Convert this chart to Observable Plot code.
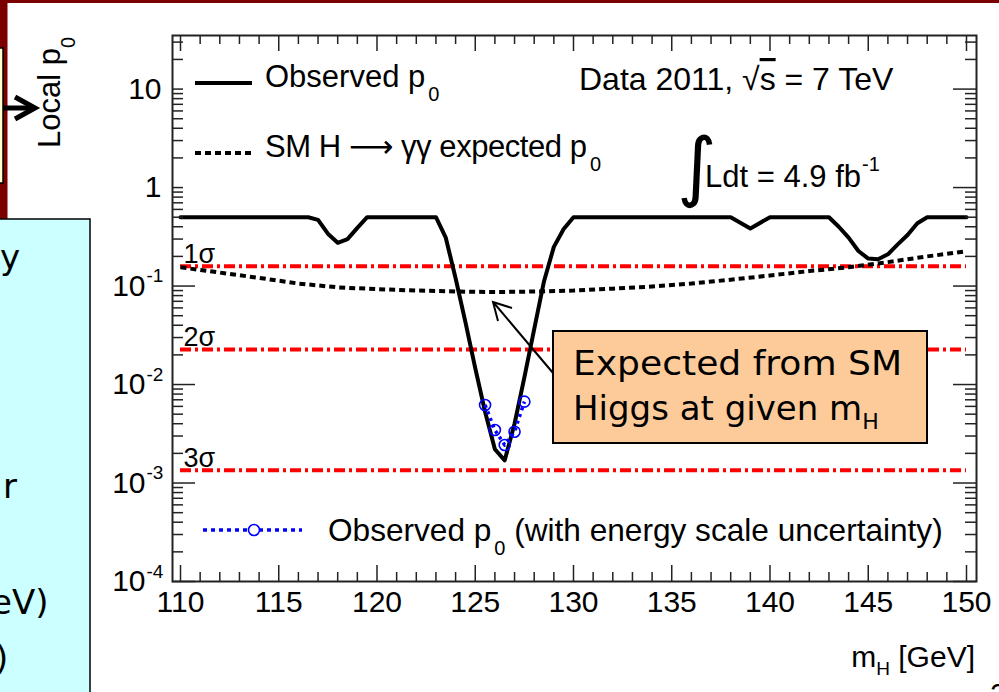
<!DOCTYPE html>
<html><head><meta charset="utf-8">
<script src="https://cdn.jsdelivr.net/npm/d3@7"></script>
<script src="https://cdn.jsdelivr.net/npm/@observablehq/plot@0.6"></script>
<style>
html,body{margin:0;padding:0;background:#fff;overflow:hidden;}
#wrap{position:relative;width:999px;height:692px;}
#wrap svg{position:absolute;left:0;top:0;}
</style></head><body><div id="wrap"></div>
<script>
// ---- data ----
const obsMass = [110,116.5,117,117.5,118,118.5,119,119.5,123,123.5,124,124.5,125,125.5,126,126.5,127,127.5,128,128.5,129,129.5,130,138,139,140,143,143.5,144,144.5,145,145.5,146,146.5,147,147.5,148,150];
const obsP0   = [0.5,0.5,0.47,0.34,0.275,0.30,0.39,0.5,0.5,0.31,0.12,0.043,0.0147,0.0053,0.0022,0.0017,0.0040,0.0118,0.0366,0.112,0.25,0.38,0.5,0.5,0.385,0.5,0.5,0.40,0.31,0.227,0.19,0.187,0.21,0.265,0.33,0.435,0.5,0.5];
const expMass = [110,112,114,116,118,120,122,124,126,128,130,132,134,136,138,140,142,144,146,148,150];
const expP0   = [0.155,0.137,0.121,0.106,0.097,0.093,0.090,0.088,0.087,0.088,0.090,0.094,0.099,0.106,0.116,0.128,0.142,0.155,0.175,0.200,0.225];
const escMass = [125.5,126,126.5,127,127.5];
const escP0   = [0.0062,0.00345,0.00243,0.00332,0.0067];
const sigmaP0 = [0.1587,0.02275,0.00135];
const sigmaNames = ["1σ","2σ","3σ"];
const xTickLabels = [110,115,120,125,130,135,140,145,150];
const yPlainVals = [10,1];
const yPlainText = ["10","1"];
const yExpVals = [0.1,0.01,0.001,0.0001];
const yExpText = ["-1","-2","-3","-4"];

const obsData = obsMass.map((m,i)=>({m, p: obsP0[i]}));
const expData = expMass.map((m,i)=>({m, p: expP0[i]}));
const escData = escMass.map((m,i)=>({m, p: escP0[i]}));

const W=999, H=692, mL=172, mR=23, mT=35, mB=111;
const fW = W-mL-mR, fH = H-mT-mB;
const xMajor = d3.range(110,151,5);
const xMinor = d3.range(110,151,1).filter(v=>v%5!==0);
const yMajor = [1e-4,1e-3,1e-2,1e-1,1,10];
const yMinor = [];
for (let d=-4; d<=1; d++) for (let k=2;k<=9;k++){const v=k*Math.pow(10,d); if(v<35) yMinor.push(v);}
const tk = {stroke:"#222", strokeWidth:1.5};
const FONT = "Liberation Sans, Arial, Helvetica, sans-serif";

const chart = Plot.plot({
  width: W, height: H, marginLeft: mL, marginRight: mR, marginTop: mT, marginBottom: mB,
  style: {fontFamily: FONT, background: "transparent", color: "#000"},
  x: {domain: [109.593,150.509], axis: null},
  y: {type: "log", domain: [1e-4,35], axis: null},
  marks: [
    Plot.ruleY(sigmaP0, {y: d=>d, x1: 110, x2: 150, stroke: "#ff0000", strokeWidth: 4, strokeDasharray: "11,4,3,4"}),
    Plot.line(expData, {x:"m", y:"p", stroke:"#000", strokeWidth:4, strokeDasharray:"6,4", strokeLinecap:"butt"}),
    Plot.line(obsData, {x:"m", y:"p", stroke:"#000", strokeWidth:4}),
    Plot.line(escData, {x:"m", y:"p", stroke:"#0000ff", strokeWidth:3.5, strokeDasharray:"3,4", strokeLinecap:"butt"}),
    Plot.dot(escData, {x:"m", y:"p", r:5.5, stroke:"#0000ff", strokeWidth:1.6, fill:"none"}),
    Plot.tickX(xMajor, {x: d=>d, insetTop: fH-16, ...tk}),
    Plot.tickX(xMinor, {x: d=>d, insetTop: fH-9, ...tk}),
    Plot.tickX(xMajor, {x: d=>d, insetBottom: fH-16, ...tk}),
    Plot.tickX(xMinor, {x: d=>d, insetBottom: fH-9, ...tk}),
    Plot.tickY(yMajor, {y: d=>d, insetRight: fW-23, ...tk}),
    Plot.tickY(yMinor, {y: d=>d, insetRight: fW-11, ...tk}),
    Plot.tickY(yMajor, {y: d=>d, insetLeft: fW-23, ...tk}),
    Plot.tickY(yMinor, {y: d=>d, insetLeft: fW-11, ...tk}),
    Plot.frame({stroke:"#222", strokeWidth:2}),
    Plot.text(xTickLabels, {x: d=>d, text: d=>String(d), frameAnchor:"bottom", dy:30, fontSize:30, fill:"#000"}),
    Plot.text(yPlainVals, {y: d=>d, text: (d,i)=>yPlainText[i], frameAnchor:"left", textAnchor:"end", dx:-11, fontSize:30, fill:"#000"}),
    Plot.text(yExpVals, {y: d=>d, text: ()=>"10", frameAnchor:"left", textAnchor:"end", dx:-27, fontSize:30, fill:"#000"}),
    Plot.text(yExpVals, {y: d=>d, text: (d,i)=>yExpText[i], frameAnchor:"left", textAnchor:"start", dx:-26, dy:-10, fontSize:19, fill:"#000"}),
    Plot.text(sigmaP0, {y: d=>d, text: (d,i)=>sigmaNames[i], frameAnchor:"left", textAnchor:"start", lineAnchor:"bottom", dx:11, dy:-3, fontSize:27, fill:"#000"})
  ]
});
document.getElementById("wrap").appendChild(chart);

const ov = `
<svg width="999" height="692" xmlns="http://www.w3.org/2000/svg" font-family="${FONT}">
  <rect x="0" y="0" width="999" height="3" fill="#7b0000"/>
  <rect x="0" y="0" width="7.5" height="219" fill="#7b0000"/>
  <rect x="-5" y="48" width="8" height="135" fill="#ffffcc" stroke="#000" stroke-width="1.5"/>
  <line x1="3" y1="108" x2="32" y2="108" stroke="#000" stroke-width="5"/>
  <polyline points="15,97 35,108 15,119" fill="none" stroke="#000" stroke-width="5"/>
  <rect x="-5" y="219" width="95" height="490" fill="#ccffff" stroke="#000" stroke-width="1.5"/>
  <g font-family="DejaVu Sans" font-size="34" fill="#000">
    <text x="0" y="269">y</text>
    <text x="3" y="498">r</text>
    <text x="-9" y="614">eV)</text>
    <text x="-5" y="670">)</text>
  </g>
  <text font-size="31" transform="translate(60,148) rotate(-90)">Local p<tspan font-size="20" dy="15">0</tspan></text>

  <rect x="183" y="52" width="380" height="146" fill="#fff"/>
  <line x1="195" y1="83" x2="252" y2="83" stroke="#000" stroke-width="4"/>
  <text x="265" y="87" font-size="31">Observed p<tspan font-size="20" dy="14" dx="3">0</tspan></text>
  <line x1="195" y1="153" x2="252" y2="153" stroke="#000" stroke-width="4" stroke-dasharray="6,4"/>
  <text x="265" y="157" font-size="31" textLength="322" lengthAdjust="spacing">SM H <tspan font-family="DejaVu Sans">⟶</tspan> γγ expected p</text>
  <text x="590" y="171" font-size="20">0</text>

  <text x="579" y="90" font-size="32">Data 2011, √<tspan style="text-decoration:overline">s</tspan> = 7 TeV</text>
  <text x="677" y="192" font-family="DejaVu Sans" font-size="76">∫</text>
  <text x="705" y="187" font-size="31">Ldt = 4.9 fb<tspan font-size="20" dy="-16" dx="1">-1</tspan></text>

  <line x1="203" y1="530" x2="302" y2="530" stroke="#0000ff" stroke-width="3.5" stroke-dasharray="4,4"/>
  <circle cx="254" cy="530" r="5.5" fill="#fff" stroke="#0000ff" stroke-width="1.6"/>
  <text x="328" y="541" font-size="31.6">Observed p<tspan font-size="20" dy="14" dx="3">0</tspan><tspan dy="-14"> (with energy scale uncertainty)</tspan></text>

  <text x="975" y="667" font-size="30" text-anchor="end">m<tspan font-size="19" dy="8">H</tspan><tspan dy="-8"> [GeV]</tspan></text>

  <line x1="553" y1="373" x2="494" y2="303" stroke="#000" stroke-width="2"/>
  <polyline points="512,308 493,302 498,321" fill="none" stroke="#000" stroke-width="2"/>
  <rect x="553" y="331" width="374" height="112" fill="#fdcb9a" stroke="#000" stroke-width="2"/>
  <g font-family="DejaVu Sans" font-size="34" fill="#000">
    <text x="573" y="375" textLength="329" lengthAdjust="spacingAndGlyphs">Expected from SM</text>
    <text x="573" y="420">Higgs at given m<tspan font-size="22" dy="9">H</tspan></text>
  </g>
  <text x="990" y="704" font-size="30">2</text>
</svg>`;
document.getElementById("wrap").insertAdjacentHTML("beforeend", ov);
</script>
</body></html>
